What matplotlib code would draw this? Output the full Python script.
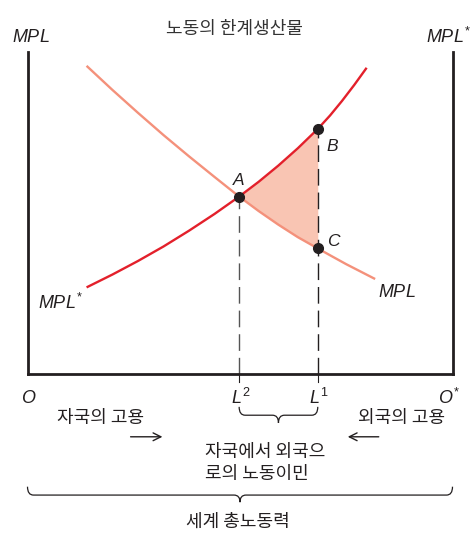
import numpy as np
import matplotlib
matplotlib.use('Agg')
import matplotlib.pyplot as plt
from matplotlib.path import Path
from matplotlib.patches import PathPatch

plt.rcParams['font.family'] = ['Noto Sans CJK KR', 'DejaVu Sans']
plt.rcParams['mathtext.fontset'] = 'custom'
plt.rcParams['mathtext.it'] = 'Liberation Sans:italic'
plt.rcParams['mathtext.rm'] = 'Liberation Sans'

# 자국 노동의 한계생산물 (MPL), 왼쪽 원점 기준
mpl_x = [13.9, 20, 26, 32, 38, 44, 49.8, 54.4, 59.0, 63.6, 68.3, 71.7, 75.0, 78.4, 81.8]
mpl_y = [95.7, 88.2, 81.1, 74.2, 67.6, 61.2, 55.1, 50.6, 46.4, 42.5, 39.0, 36.5, 34.1, 31.8, 29.5]
# 외국 노동의 한계생산물 (MPL*)
mpls_x = [13.9, 20, 26, 32, 38, 44, 49.8, 54.4, 59.0, 63.6, 68.3, 71.2, 74.0, 76.9, 79.8]
mpls_y = [26.9, 30.9, 35.1, 39.6, 44.5, 49.7, 55.1, 59.7, 64.7, 70.1, 76.1, 80.3, 84.8, 89.8, 95.1]

L2 = 49.8   # 이민 후 자국 고용 (A)
L1 = 68.3   # 이민 전 자국 고용 (B, C)

points = {'A': (L2, 55.1), 'B': (L1, 76.1), 'C': (L1, 39.0)}

ink = '#231F20'
c_mpl = '#F4917B'
c_mpls = '#E3202B'
c_fill = '#F9C5B3'

fig = plt.figure(figsize=(4.74, 5.36), dpi=100)
ax = fig.add_axes([27.5 / 474, 1 - 374 / 536, 425 / 474, 322 / 536])
ax.set_xlim(0, 100)
ax.set_ylim(0, 100)
ax.axis('off')

# 삼각형 음영 (A-B-C)
mx, my = np.array(mpl_x), np.array(mpl_y)
sx, sy = np.array(mpls_x), np.array(mpls_y)
seg_x = mx[(mx >= L2) & (mx <= L1)]
lo = my[(mx >= L2) & (mx <= L1)]
hi = sy[(sx >= L2) & (sx <= L1)]
ax.fill_between(seg_x, lo, hi, color=c_fill, lw=0, zorder=1)

ax.plot(mpl_x, mpl_y, color=c_mpl, lw=1.7, zorder=2, solid_capstyle='butt')
ax.plot(mpls_x, mpls_y, color=c_mpls, lw=1.7, zorder=3, solid_capstyle='butt')

# 점선
ax.plot([L2, L2], [0, points['A'][1]], color='#555555', lw=1.0, dashes=(12, 5), zorder=1)
ax.plot([L1, L1], [0, points['B'][1]], color=ink, lw=1.0, dashes=(12, 5), zorder=1)

for k, (px, py) in points.items():
    ax.plot(px, py, 'o', color=ink, ms=7, zorder=5)

# 박스
ax.plot([0, 0], [0, 100], color=ink, lw=2, clip_on=False, solid_capstyle='projecting')
ax.plot([100, 100], [0, 100], color=ink, lw=2, clip_on=False, solid_capstyle='projecting')
ax.plot([0, 100], [0, 0], color=ink, lw=2, clip_on=False, solid_capstyle='projecting')
for xv in (L2, L1):
    ax.plot([xv, xv], [0, -2.5], color=ink, lw=0.8, clip_on=False)

lab = dict(fontsize=12.5, color=ink, fontstyle='italic', family='Liberation Sans')
ax.text(49.8, 60.2, 'A', ha='center', va='center', **lab)
ax.text(71.6, 70.6, 'B', ha='center', va='center', **lab)
ax.text(72.0, 41.1, 'C', ha='center', va='center', **lab)

ax.text(0.8, 104.8, r'$MPL$', ha='center', va='center', fontsize=13, color=ink, clip_on=False)
ax.text(93.8, 104.8, r'$MPL^{*}$', ha='left', va='center', fontsize=13, color=ink, clip_on=False)
ax.text(2.5, 22.0, r'$MPL^{*}$', ha='left', va='center', fontsize=13, color=ink)
ax.text(82.5, 25.6, r'$MPL$', ha='left', va='center', fontsize=13, color=ink)

ax.text(48.6, 107.3, '노동의 한계생산물', ha='center', va='center', fontsize=13, color='#333333', clip_on=False)

ax.text(0.2, -7.5, r'$O$', ha='center', va='center', fontsize=13, color=ink, clip_on=False)
ax.text(99.2, -7.5, r'$O^{*}$', ha='center', va='center', fontsize=13, color=ink, clip_on=False)
ax.text(L2 + 0.3, -7.5, r'$L^{2}$', ha='center', va='center', fontsize=13, color=ink, clip_on=False)
ax.text(L1 + 0.3, -7.5, r'$L^{1}$', ha='center', va='center', fontsize=13, color=ink, clip_on=False)

ax.text(17.1, -13.6, '자국의 고용', ha='center', va='center', fontsize=13, color=ink, clip_on=False)
ax.text(87.9, -13.6, '외국의 고용', ha='center', va='center', fontsize=13, color=ink, clip_on=False)
ax.annotate('', xy=(32.4, -19.5), xytext=(23.6, -19.5), annotation_clip=False,
            arrowprops=dict(arrowstyle='->', color=ink, lw=1.0, mutation_scale=14))
ax.annotate('', xy=(74.7, -19.5), xytext=(83.3, -19.5), annotation_clip=False,
            arrowprops=dict(arrowstyle='->', color=ink, lw=1.0, mutation_scale=14))
ax.text(41.8, -27.5, '자국에서 외국으\n로의 노동이민', ha='left', va='center', fontsize=13,
        color=ink, linespacing=1.3, clip_on=False)
ax.text(49.6, -45.9, '세계 총노동력', ha='center', va='center', fontsize=13, color=ink, clip_on=False)


def brace(x0, x1, ytop, yline, ytip, r=1.4):
    xm = (x0 + x1) / 2
    verts = [(x0, ytop), (x0, yline), (x0 + r, yline),
             (xm - r, yline), (xm, yline), (xm, ytip),
             (xm, yline), (xm + r, yline),
             (x1 - r, yline), (x1, yline), (x1, ytop)]
    codes = [Path.MOVETO, Path.CURVE3, Path.CURVE3,
             Path.LINETO, Path.CURVE3, Path.CURVE3,
             Path.CURVE3, Path.CURVE3,
             Path.LINETO, Path.CURVE3, Path.CURVE3]
    ax.add_patch(PathPatch(Path(verts, codes), fill=False, ec=ink, lw=0.9, clip_on=False))


brace(L2, L1, -10.2, -12.8, -15.2)
brace(0, 100, -35.0, -37.6, -39.8)

fig.savefig('out.png', dpi=100)
